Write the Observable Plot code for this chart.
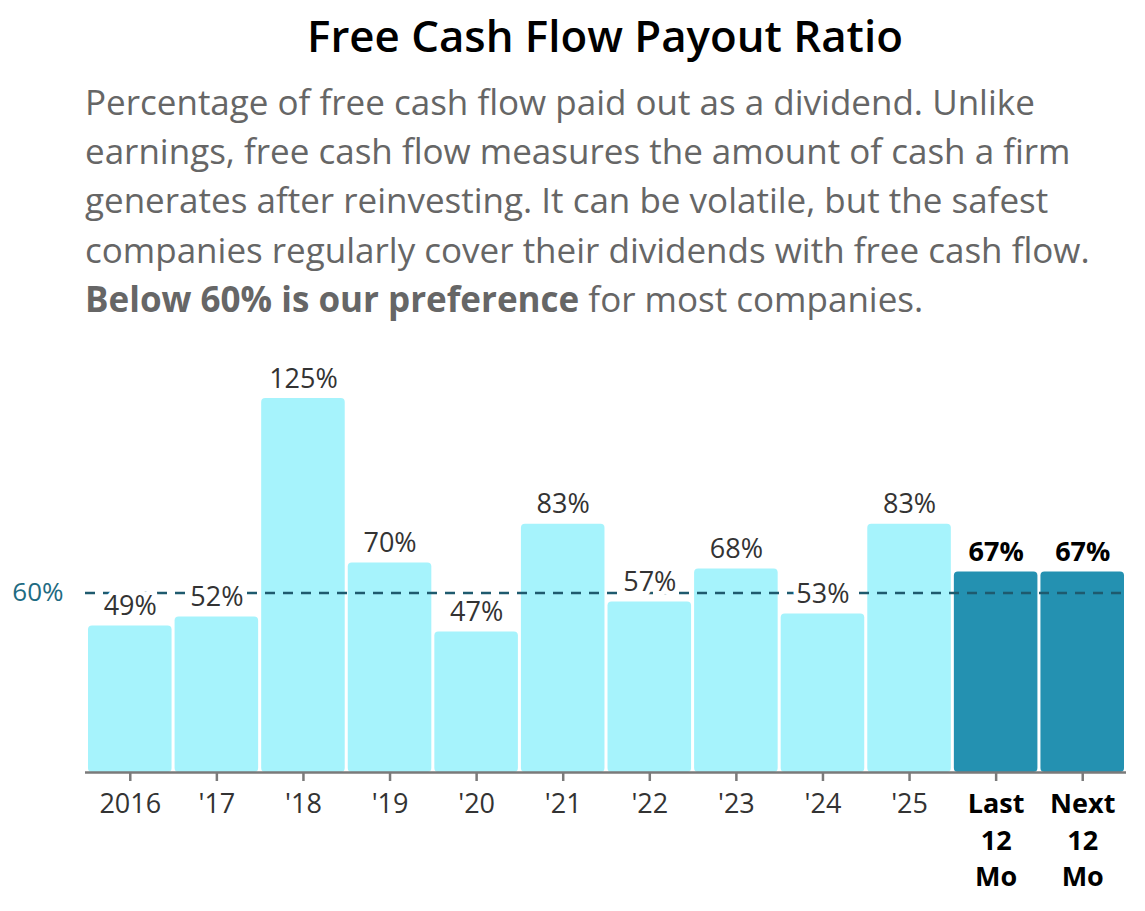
<!DOCTYPE html>
<html>
<head>
<meta charset="utf-8">
<script src="https://cdn.jsdelivr.net/npm/d3@7"></script>
<script src="https://cdn.jsdelivr.net/npm/@observablehq/plot@0.6"></script>
<style>
  html, body { margin: 0; padding: 0; background: #fff; }
  body { width: 1145px; height: 911px; position: relative; overflow: hidden; font-family: "Open Sans", sans-serif; }
  #title { position: absolute; left: 85px; width: 1040px; top: 11px; text-align: center; font-weight: 600; font-size: 43.8px; line-height: 48px; color: #000; white-space: nowrap; }
  #sub { position: absolute; left: 85px; width: 1060px; top: 77px; font-weight: 400; font-size: 35px; line-height: 49.2px; color: #666; white-space: nowrap; }
  #sub b { font-weight: 700; }
  #chart { position: absolute; left: 0; top: 340px; }
</style>
</head>
<body>
<div id="title">Free Cash Flow Payout Ratio</div>
<div id="sub">Percentage of free cash flow paid out as a dividend. Unlike<br>earnings, free cash flow measures the amount of cash a firm<br>generates after reinvesting. It can be volatile, but the safest<br>companies regularly cover their dividends with free cash flow.<br><b>Below 60% is our preference</b> for most companies.</div>
<div id="chart"></div>
<script>
const categories = ["2016", "'17", "'18", "'19", "'20", "'21", "'22", "'23", "'24", "'25", "Last 12 Mo", "Next 12 Mo"];
const values = [49, 52, 125, 70, 47, 83, 57, 68, 53, 83, 67, 67];
const highlighted = [false, false, false, false, false, false, false, false, false, false, true, true];
const tickLabels = ["2016", "'17", "'18", "'19", "'20", "'21", "'22", "'23", "'24", "'25", "Last\n12\nMo", "Next\n12\nMo"];
const threshold = 60;

const data = categories.map((c, i) => ({cat: c, value: values[i], hi: highlighted[i], label: tickLabels[i]}));
const labelOf = new Map(data.map(d => [d.cat, d.label]));
const normalCats = data.filter(d => !d.hi).map(d => d.cat);
const boldCats = data.filter(d => d.hi).map(d => d.cat);

const chart = Plot.plot({
  width: 1145,
  height: 570,
  marginLeft: 85,
  marginRight: 19,
  marginTop: 58,
  marginBottom: 138,
  style: {fontFamily: "Open Sans", fontSize: "27px", overflow: "visible", background: "transparent"},
  x: {domain: categories, paddingInner: 0.035, paddingOuter: 0, insetLeft: 3, insetRight: 2, round: false, axis: null},
  y: {domain: [0, 125], axis: null},
  marks: [
    Plot.barY(data, {x: "cat", y: "value", fill: d => d.hi ? "#2491b1" : "#a6f3fc", rx: 4}),
    Plot.ruleY([0], {stroke: "#7a7a7a", strokeWidth: 2.5}),
    Plot.ruleY([threshold], {stroke: "#1e5a6e", strokeWidth: 2.5, strokeDasharray: "10,8"}),
    Plot.text([threshold], {y: d => d, frameAnchor: "left", textAnchor: "end", dx: -22, lineAnchor: "middle", text: d => d + "%", fill: "#1e6b82", fontSize: 26}),
    Plot.text(data.filter(d => !d.hi), {x: "cat", y: "value", text: d => d.value + "%", lineAnchor: "bottom", dy: -11, fill: "#333", stroke: "white", strokeWidth: 10, fontSize: 27}),
    Plot.text(data.filter(d => d.hi), {x: "cat", y: "value", text: d => d.value + "%", lineAnchor: "bottom", dy: -11, fill: "#000", fontWeight: 700, stroke: "white", strokeWidth: 10, fontSize: 27}),
    Plot.axisX(normalCats, {label: null, tickSize: 9, tickPadding: 6, strokeWidth: 2.5, stroke: "#7a7a7a", fill: "#333", fontSize: 27, lineHeight: 1.35, tickFormat: d => labelOf.get(d)}),
    Plot.axisX(boldCats, {label: null, tickSize: 9, tickPadding: 6, strokeWidth: 2.5, stroke: "#7a7a7a", fill: "#000", fontWeight: 700, fontSize: 27, lineHeight: 1.35, tickFormat: d => labelOf.get(d)})
  ]
});
document.getElementById("chart").appendChild(chart);
</script>
</body>
</html>
